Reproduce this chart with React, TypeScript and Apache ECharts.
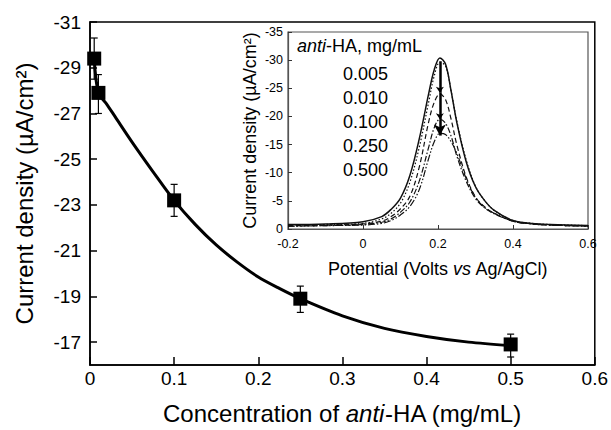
import React, { useEffect, useRef } from "react";
import * as echarts from "echarts";

// Main plot data
const concX = [0.005, 0.01, 0.1, 0.25, 0.5];
const currentY = [-29.4, -27.9, -23.2, -18.9, -16.9];
const errTop = [-30.3, -28.7, -23.9, -19.45, -17.35];
const errBottom = [-28.5, -27.0, -22.5, -18.3, -16.35];

// Fitted curve
const fitX = [0.005, 0.01, 0.02, 0.03, 0.05, 0.075, 0.1, 0.125, 0.15, 0.175, 0.2, 0.225, 0.25, 0.3, 0.35, 0.4, 0.45, 0.5];
const fitY = [-29.4, -27.9, -27.4, -26.85, -25.75, -24.45, -23.2, -22.15, -21.25, -20.5, -19.85, -19.35, -18.9, -18.15, -17.6, -17.25, -17.0, -16.85];

const mainYTicks = [-31, -29, -27, -25, -23, -21, -19, -17];

// Inset voltammograms
const potentialX = [-0.2, -0.1, 0, 0.05, 0.075, 0.1, 0.125, 0.15, 0.175, 0.19, 0.205, 0.22, 0.235, 0.25, 0.275, 0.3, 0.325, 0.35, 0.4, 0.45, 0.5, 0.6];
const curve0005 = [-0.8, -0.9, -1.3, -2.2, -3.5, -5.5, -9.5, -16, -24, -28.3, -30.4, -29.3, -24.5, -19, -12, -7.5, -5, -3.3, -1.5, -1.0, -0.8, -0.6];
const curve0010 = [-0.7, -0.8, -1.0, -1.8, -2.8, -4.6, -8.3, -14.5, -22.5, -27.2, -29.6, -29.0, -24.5, -19.2, -12.3, -7.6, -5.0, -3.3, -1.5, -1.0, -0.8, -0.6];
const curve0100 = [-0.6, -0.7, -0.9, -1.4, -2.2, -3.6, -5.8, -11, -19, -22.5, -24, -23, -19.5, -15, -9.3, -5.7, -3.9, -2.8, -1.4, -0.9, -0.7, -0.5];
const curve0250 = [-0.5, -0.6, -0.8, -1.2, -1.8, -3.0, -4.8, -8.5, -14.5, -18, -19.5, -18.8, -16.5, -13, -8.5, -5.4, -3.7, -2.7, -1.4, -0.9, -0.7, -0.5];
const curve0500 = [-0.5, -0.6, -0.7, -1.0, -1.5, -2.5, -4.0, -7.0, -12.5, -15.5, -17, -16.8, -15.5, -13.5, -9, -5.6, -3.8, -2.8, -1.4, -0.9, -0.7, -0.5];
const insetCurves = [curve0005, curve0010, curve0100, curve0250, curve0500];
const insetLabels = ["0.005", "0.010", "0.100", "0.250", "0.500"];
const arrowX = 0.205;
const arrowStops = [-29.8, -24.2, -19.5, -16.6];

const FONT = "'Liberation Sans', Arial, sans-serif";
const dashStyles: any[] = ["solid", [1.5, 2], [5, 3], [6, 2, 1.5, 2], [7, 2, 1.5, 2, 1.5, 2]];

export default function App() {
  const ref = useRef<HTMLDivElement>(null);
  useEffect(() => {
    document.body.style.margin = "0";
    const chart = echarts.init(ref.current!, null, { renderer: "svg" });

    const fitData = fitX.map((x, i) => [x, fitY[i]]);
    const pointData = concX.map((x, i) => [x, currentY[i]]);
    const errData = concX.map((x, i) => [x, errTop[i], errBottom[i]]);

    const insetSeries: any[] = insetCurves.map((c, k) => ({
      type: "line",
      xAxisIndex: 1,
      yAxisIndex: 1,
      data: potentialX.map((x, i) => [x, c[i]]),
      smooth: 0.35,
      showSymbol: false,
      silent: true,
      lineStyle: { color: "#111", width: k === 0 ? 1.5 : 1.2, type: dashStyles[k] },
      z: 3,
    }));

    const arrowData: any[] = [];
    for (let i = 0; i < arrowStops.length - 1; i++) {
      const last = i === arrowStops.length - 2;
      arrowData.push([
        { coord: [arrowX, arrowStops[i]], symbol: "none" },
        { coord: [arrowX, arrowStops[i + 1]], symbol: "arrow", symbolSize: last ? [9, 11] : [6, 6] },
      ]);
    }
    insetSeries[0].markLine = {
      silent: true,
      symbol: ["none", "arrow"],
      label: { show: false },
      lineStyle: { color: "#000", width: 2.5, type: "solid" },
      data: arrowData,
    };

    const graphics: any[] = [
      {
        type: "text",
        left: 297,
        top: 37,
        style: {
          text: "{i|anti}-HA, mg/mL",
          fontSize: 18,
          fontFamily: FONT,
          fill: "#000",
          rich: { i: { fontStyle: "italic", fontSize: 18, fontFamily: FONT, fill: "#000" } },
        },
      },
      ...insetLabels.map((t, i) => ({
        type: "text",
        left: 343,
        top: 65 + i * 24,
        style: { text: t, fontSize: 18, fontFamily: FONT, fill: "#000" },
      })),
    ];

    chart.setOption({
      animation: false,
      backgroundColor: "#fff",
      textStyle: { fontFamily: FONT },
      grid: [
        { left: 90, top: 22, right: 11, bottom: 58, show: true, borderColor: "#000", borderWidth: 1.5, backgroundColor: "transparent" },
        { left: 288, top: 32, right: 23, bottom: 201, show: true, borderColor: "#555", borderWidth: 1.2, backgroundColor: "#fff" },
      ],
      xAxis: [
        {
          type: "value",
          gridIndex: 0,
          min: 0,
          max: 0.6,
          interval: 0.1,
          splitLine: { show: false },
          axisLine: { onZero: false, lineStyle: { color: "#000", width: 1.5 } },
          axisTick: { inside: true, length: 8, lineStyle: { color: "#000", width: 1.5 } },
          axisLabel: { color: "#000", fontSize: 19, margin: 4, fontFamily: FONT },
          name: "Concentration of {i|anti}-HA (mg/mL)",
          nameLocation: "middle",
          nameGap: 36,
          nameTextStyle: {
            color: "#000",
            fontSize: 24,
            fontFamily: FONT,
            rich: { i: { fontStyle: "italic", fontSize: 24, fontFamily: FONT, color: "#000" } },
          },
        },
        {
          type: "value",
          gridIndex: 1,
          min: -0.2,
          max: 0.6,
          interval: 0.2,
          splitLine: { show: false },
          axisLine: { onZero: false, lineStyle: { color: "#555", width: 1.2 } },
          axisTick: { inside: true, length: 4, lineStyle: { color: "#333" } },
          axisLabel: { color: "#000", fontSize: 12.5, margin: 8, fontFamily: FONT },
          name: "Potential (Volts {i|vs} Ag/AgCl)",
          nameLocation: "middle",
          nameGap: 31,
          nameTextStyle: {
            color: "#000",
            fontSize: 18,
            fontFamily: FONT,
            rich: { i: { fontStyle: "italic", fontSize: 18, fontFamily: FONT, color: "#000" } },
          },
        },
      ],
      yAxis: [
        {
          type: "value",
          gridIndex: 0,
          inverse: true,
          min: -31,
          max: -16,
          splitLine: { show: false },
          axisLine: { onZero: false, lineStyle: { color: "#000", width: 1.5 } },
          axisTick: { inside: true, length: 7, customValues: mainYTicks, lineStyle: { color: "#000", width: 1.5 } },
          axisLabel: { color: "#000", fontSize: 19, margin: 9, customValues: mainYTicks, fontFamily: FONT },
          name: "Current density (µA/cm²)",
          nameLocation: "middle",
          nameRotate: 90,
          nameGap: 54,
          nameTextStyle: { color: "#000", fontSize: 24, fontFamily: FONT },
        },
        {
          type: "value",
          gridIndex: 1,
          inverse: true,
          min: -35,
          max: 0,
          interval: 5,
          splitLine: { show: false },
          axisLine: { onZero: false, lineStyle: { color: "#555", width: 1.2 } },
          axisTick: { inside: true, length: 4, lineStyle: { color: "#333" } },
          axisLabel: { color: "#000", fontSize: 12.5, margin: 5, fontFamily: FONT },
          name: "Current density (µA/cm²)",
          nameLocation: "middle",
          nameRotate: 90,
          nameGap: 29,
          nameTextStyle: { color: "#000", fontSize: 18, fontFamily: FONT },
        },
      ],
      graphic: graphics,
      series: [
        {
          type: "custom",
          xAxisIndex: 0,
          yAxisIndex: 0,
          data: errData,
          encode: { x: 0, y: [1, 2] },
          silent: true,
          z: 2,
          renderItem: (params: any, api: any) => {
            const x = api.value(0);
            const p1 = api.coord([x, api.value(1)]);
            const p2 = api.coord([x, api.value(2)]);
            const w = 3.5;
            const st = { stroke: "#000", lineWidth: 1.2 };
            return {
              type: "group",
              children: [
                { type: "line", shape: { x1: p1[0], y1: p1[1], x2: p2[0], y2: p2[1] }, style: st },
                { type: "line", shape: { x1: p1[0] - w, y1: p1[1], x2: p1[0] + w, y2: p1[1] }, style: st },
                { type: "line", shape: { x1: p2[0] - w, y1: p2[1], x2: p2[0] + w, y2: p2[1] }, style: st },
              ],
            };
          },
        },
        {
          type: "line",
          xAxisIndex: 0,
          yAxisIndex: 0,
          data: fitData,
          smooth: 0.3,
          showSymbol: false,
          silent: true,
          lineStyle: { color: "#000", width: 3 },
          z: 3,
        },
        {
          type: "scatter",
          xAxisIndex: 0,
          yAxisIndex: 0,
          data: pointData,
          symbol: "rect",
          symbolSize: 14,
          itemStyle: { color: "#000", opacity: 1 },
          silent: true,
          z: 4,
        },
        ...insetSeries,
      ],
    });
    return () => chart.dispose();
  }, []);
  return <div ref={ref} style={{ width: 611, height: 430 }} />;
}
